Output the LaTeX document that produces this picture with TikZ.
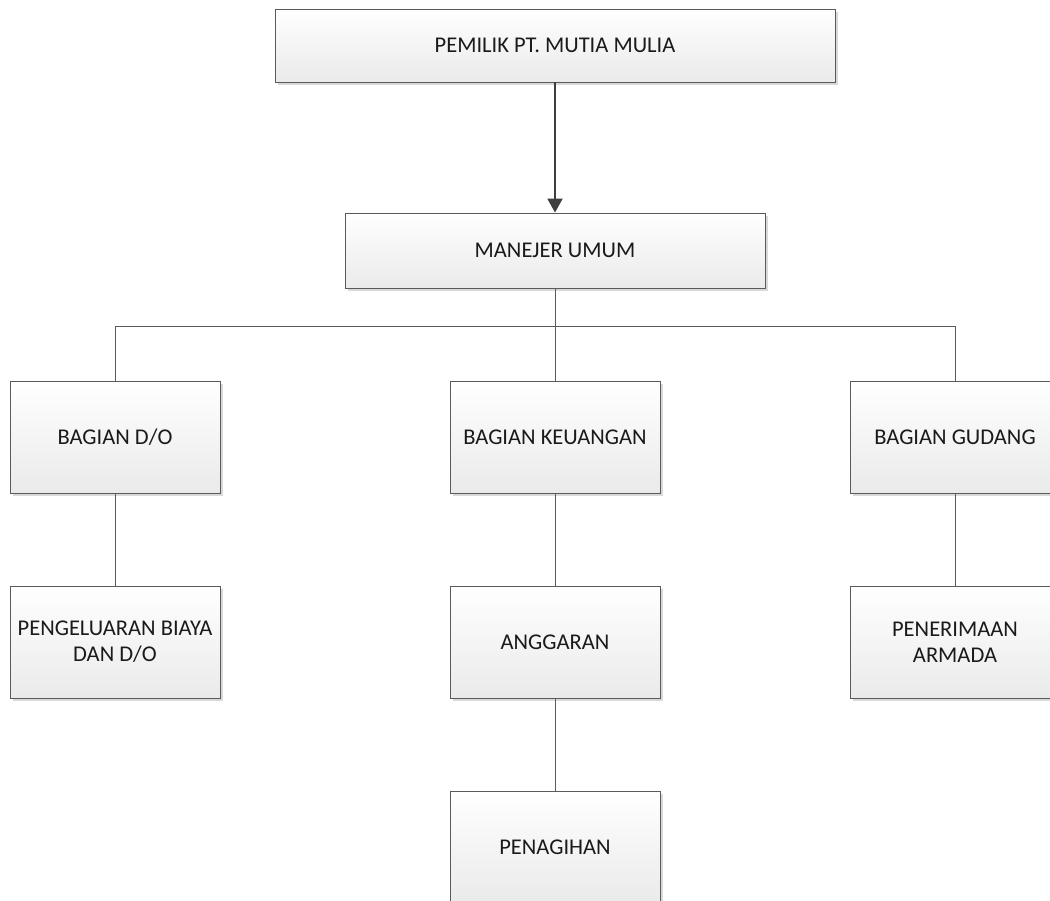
\documentclass[tikz,border=0pt]{standalone}
\usepackage{fontspec}
\setmainfont{Carlito}
\usetikzlibrary{shadows,arrows.meta}
\definecolor{edgegray}{HTML}{5A5A5A}
\definecolor{boxbottom}{HTML}{EAEAEA}
\definecolor{shadegray}{HTML}{D9D9D9}
\definecolor{arrowgray}{HTML}{3F3F3F}
\definecolor{textgray}{HTML}{1A1A1A}
\tikzset{
  orgbox/.style={draw=edgegray, line width=0.9pt, top color=white, bottom color=boxbottom,
    inner sep=0pt, align=center, text=textgray, font=\fontsize{22.5}{26}\selectfont,
    drop shadow={shadow xshift=3pt, shadow yshift=-3pt, fill=shadegray, opacity=1}},
  wide/.style={orgbox, minimum width=560pt, minimum height=73pt},
  mid/.style={orgbox, minimum width=420pt, minimum height=75pt},
  unit/.style={orgbox, minimum width=210pt, minimum height=112pt},
  link/.style={draw=edgegray, line width=0.9pt},
  lead/.style={draw=arrowgray, line width=2pt, -{Triangle[width=15pt,length=14pt]}}
}
\begin{document}
\begin{tikzpicture}[x=1pt,y=-1pt]
\useasboundingbox (0,0) rectangle (1050,900);
\node[wide] (own) at (555,45.5) {PEMILIK PT. MUTIA MULIA};
\node[mid]  (mgr) at (555,250.5) {MANEJER UMUM};
\node[unit] (bdo) at (115,437) {BAGIAN D/O};
\node[unit] (bku) at (555,437) {BAGIAN KEUANGAN};
\node[unit] (bgd) at (955,437) {BAGIAN GUDANG};
\node[unit] (pbd) at (115,642) {PENGELUARAN BIAYA\\DAN D/O};
\node[unit] (ang) at (555,642) {ANGGARAN};
\node[unit] (arm) at (955,642) {PENERIMAAN\\ARMADA};
\node[unit] (pen) at (555,847) {PENAGIHAN};
\coordinate (bus) at (555,326);
\draw[lead] (own.south) -- (mgr.north);
\draw[link] (mgr.south) -- (bus);
\draw[link] (bus) -| (bdo.north);
\draw[link] (bus) -- (bku.north);
\draw[link] (bus) -| (bgd.north);
\draw[link] (bdo.south) -- (pbd.north);
\draw[link] (bku.south) -- (ang.north);
\draw[link] (bgd.south) -- (arm.north);
\draw[link] (ang.south) -- (pen.north);
\end{tikzpicture}
\end{document}
